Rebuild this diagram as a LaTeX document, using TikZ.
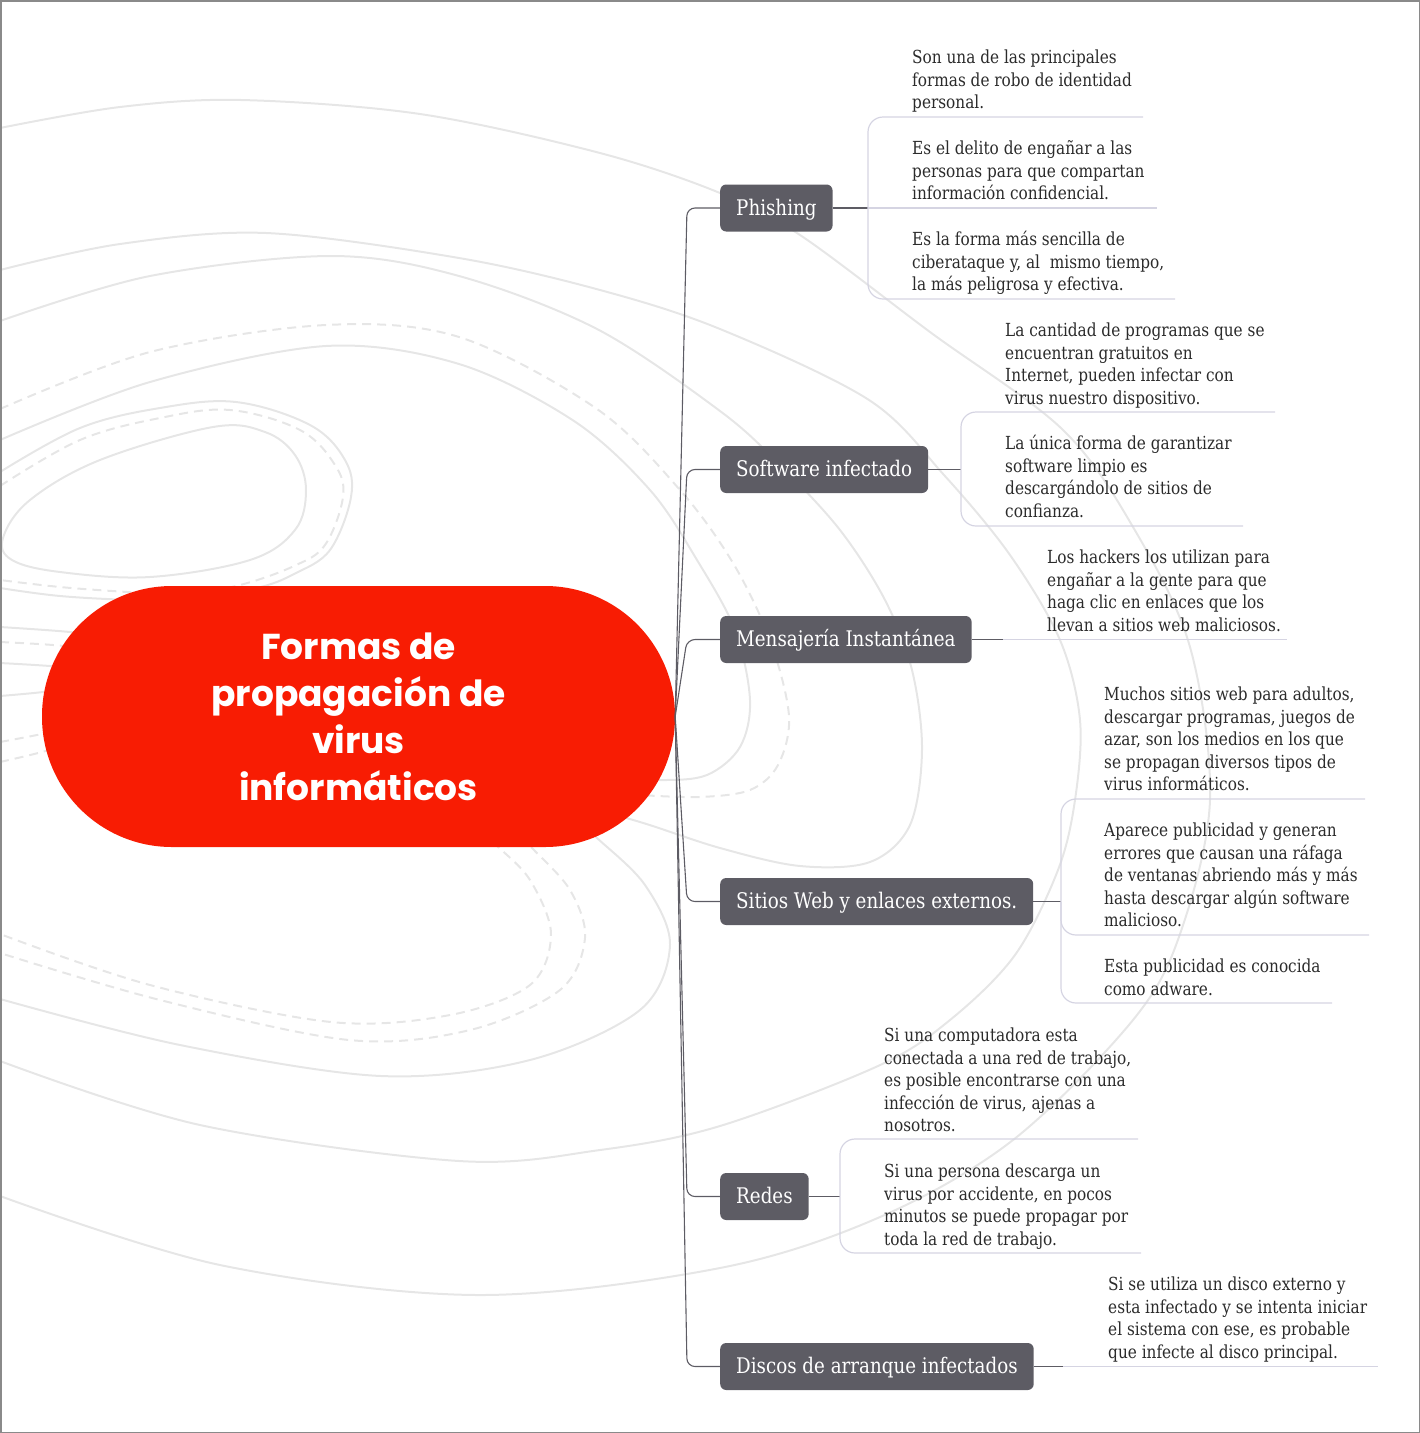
\documentclass[tikz,border=0pt]{standalone}
\usepackage{fontspec}
\setmainfont{DejaVu Serif}[FakeStretch=0.85]
\newfontfamily\leaffont{DejaVu Serif}[FakeStretch=0.85]
\newfontfamily\titlefont{Poppins}
\definecolor{rootred}{HTML}{F81C03}
\definecolor{topicgray}{HTML}{5D5C64}
\definecolor{trunkcol}{HTML}{5D5C64}
\definecolor{leafcol}{HTML}{D5D4E2}
\definecolor{bgcol}{HTML}{E6E6E6}
\definecolor{txtcol}{HTML}{2B2B2B}
\definecolor{framecol}{HTML}{8A8A8A}
\begin{document}
\begin{tikzpicture}[x=1pt,y=-1pt,
  bgsolid/.style={draw=bgcol, line width=2pt},
  bgdash/.style={draw=bgcol, line width=2pt, dash pattern=on 9pt off 6pt},
  rootnode/.style={fill=rootred, rounded corners=130pt, minimum width=633pt, minimum height=261pt, inner sep=0pt, text=white, align=center, font=\titlefont\bfseries\fontsize{36}{47}\selectfont},
  topicnode/.style={fill=topicgray, rounded corners=6pt, text=white, anchor=west, minimum height=47pt, inner xsep=16pt, inner ysep=0pt, text height=15pt, text depth=1pt, font=\leaffont\fontsize{21.5}{26}\selectfont},
  leaftext/.style={anchor=north west, inner sep=0pt, align=left, text=txtcol, font=\leaffont\fontsize{18}{22.4}\selectfont},
  trunkline/.style={draw=trunkcol, line width=1.1pt, rounded corners=8pt},
  leafline/.style={draw=leafcol, line width=1.2pt, rounded corners=15pt},
  darkline/.style={draw=trunkcol, line width=1.1pt}
]
\useasboundingbox (0,0) rectangle (1420,1433);

% ---------- background contour lines ----------
\draw[bgsolid] plot[smooth,tension=0.55] coordinates {(0,128) (120,107) (241,100) (420,114) (600,153) (720,193) (800,235) (930,332) (1062,429) (1133,527) (1190,647) (1210,800) (1180,934) (1133,1020) (1013,1140) (880,1217) (720,1268) (477,1295) (220,1265) (0,1196)};
\draw[bgsolid] plot[smooth,tension=0.55] coordinates {(0,270) (120,244) (266,233) (459,258) (600,290) (720,329) (869,400) (944,475) (1010,555) (1060,640) (1080,720) (1075,800) (1058,870) (1015,955) (950,1020) (878,1066) (720,1126) (600,1150) (459,1161) (200,1125) (0,1061)};
\draw[bgsolid] plot[smooth,tension=0.55] coordinates {(0,321) (150,276) (331,256) (459,276) (597,329) (720,411) (780,465) (840,530) (885,600) (912,670) (922,750) (910,825) (870,862) (800,866) (720,848) (640,822) (560,800)};
\draw[bgdash] plot[smooth,tension=0.55] coordinates {(0,409) (150,352) (326,325) (459,337) (597,409) (680,490) (733,563) (770,640) (789,716) (778,765) (750,790) (700,797) (640,795)};
\draw[bgsolid] plot[smooth,tension=0.55] coordinates {(0,440) (150,382) (326,346) (459,364) (574,421) (650,490) (697,560) (735,630) (750,700) (740,747) (707,775) (660,780) (600,775)};
\draw[bgsolid] plot[smooth cycle,tension=0.6] coordinates {(3,538) (30,500) (100,460) (213,427) (265,432) (295,455) (306,490) (295,530) (250,560) (150,577) (60,572) (12,560)};
\draw[bgdash] plot[smooth,tension=0.6] coordinates {(0,486) (80,440) (160,418) (230,410) (300,430) (335,465) (343,497) (325,545) (294,566) (240,585) (180,595) (127,592) (60,587) (0,580)};
\draw[bgsolid] plot[smooth,tension=0.6] coordinates {(0,472) (80,428) (160,408) (236,402) (310,425) (345,460) (351,497) (330,550) (294,574) (257,588) (190,600) (133,600) (60,596) (0,588)};
\draw[bgsolid] plot[smooth] coordinates {(0,627) (70,632) (130,640)};
\draw[bgdash] plot[smooth] coordinates {(0,642) (53,645) (120,652)};
\draw[bgsolid] plot[smooth] coordinates {(0,663) (50,666) (120,672)};
\draw[bgsolid] plot[smooth] coordinates {(0,696) (43,692) (100,684)};
\draw[bgdash] plot[smooth] coordinates {(0,742) (37,735) (100,722)};
\draw[bgdash] plot[smooth] coordinates {(0,762) (42,752) (100,735)};
\draw[bgdash] plot[smooth,tension=0.55] coordinates {(470,822) (496,845) (530,880) (551,934) (530,985) (450,1015) (331,1022) (150,985) (0,934)};
\draw[bgdash] plot[smooth,tension=0.55] coordinates {(510,826) (533,849) (570,890) (585,938) (560,990) (470,1030) (349,1040) (160,1000) (0,953)};
\draw[bgsolid] plot[smooth,tension=0.55] coordinates {(570,815) (597,838) (645,885) (670,945) (640,1010) (530,1060) (381,1076) (180,1045) (0,999)};

% ---------- frame ----------
\draw[framecol, line width=1.5pt] (0.75,0.75) rectangle (1419.25,1432.25);

% ---------- central node ----------
\node[rootnode] (rootn) at (358.5,716.5) {Formas de\\propagación de\\virus\\informáticos};

% ---------- main topics ----------
\node[topicnode] (phishing) at (720,208) {Phishing};
\node[topicnode] (software) at (720,469.5) {Software infectado};
\node[topicnode] (mensajeria) at (720,639.5) {Mensajería Instantánea};
\node[topicnode] (sitios) at (720,901.5) {Sitios Web y enlaces externos.};
\node[topicnode] (redes) at (720,1196.5) {Redes};
\node[topicnode] (discos) at (720,1366.5) {Discos de arranque infectados};

\foreach \n/\yy in {phishing/208, software/469.5, mensajeria/639.5, sitios/901.5, redes/1196.5, discos/1366.5}
  \draw[trunkline] (rootn.east) -- (687,\yy) -- (\n.west);

% ---------- join points ----------
\coordinate (phB) at (868,208);
\coordinate (swB) at (961,469.5);
\coordinate (msB) at (1003,639.5);
\coordinate (siB) at (1061,901.5);
\coordinate (reB) at (840,1196.5);
\coordinate (diB) at (1063,1366.5);

\draw[darkline] (phishing.east) -- (phB);
\draw[darkline] (software.east) -- (swB);
\draw[darkline] (mensajeria.east) -- (msB);
\draw[darkline] (sitios.east) -- (siB);
\draw[darkline] (redes.east) -- (reB);
\draw[darkline] (discos.east) -- (diB);

% ---------- leaf texts ----------
\node[leaftext] (p1) at (912,48) {\strut Son una de las principales\\formas de robo de identidad\\personal.};
\node[leaftext] (p2) at (912,139) {\strut Es el delito de engañar a las\\personas para que compartan\\información confidencial.};
\node[leaftext] (p3) at (912,230) {\strut Es la forma más sencilla de\\ciberataque y, al\ \ mismo tiempo,\\la más peligrosa y efectiva.};
\node[leaftext] (s1) at (1005,321) {\strut La cantidad de programas que se\\encuentran gratuitos en\\Internet, pueden infectar con\\virus nuestro dispositivo.};
\node[leaftext] (s2) at (1005,434) {\strut La única forma de garantizar\\software limpio es\\descargándolo de sitios de\\confianza.};
\node[leaftext] (m1) at (1047,548) {\strut Los hackers los utilizan para\\engañar a la gente para que\\haga clic en enlaces que los\\llevan a sitios web maliciosos.};
\node[leaftext] (w1) at (1104,685) {\strut Muchos sitios web para adultos,\\descargar programas, juegos de\\azar, son los medios en los que\\se propagan diversos tipos de\\virus informáticos.};
\node[leaftext] (w2) at (1104,821) {\strut Aparece publicidad y generan\\errores que causan una ráfaga\\de ventanas abriendo más y más\\hasta descargar algún software\\malicioso.};
\node[leaftext] (w3) at (1104,957) {\strut Esta publicidad es conocida\\como adware.};
\node[leaftext] (r1) at (884,1026) {\strut Si una computadora esta\\conectada a una red de trabajo,\\es posible encontrarse con una\\infección de virus, ajenas a\\nosotros.};
\node[leaftext] (r2) at (884,1162) {\strut Si una persona descarga un\\virus por accidente, en pocos\\minutos se puede propagar por\\toda la red de trabajo.};
\node[leaftext] (d1) at (1108,1275) {\strut Si se utiliza un disco externo y\\esta infectado y se intenta iniciar\\el sistema con ese, es probable\\que infecte al disco principal.};

% ---------- leaf connectors (underlines) ----------
\draw[leafline] (phB) -- (868,117) -- (1143,117);
\draw[leafline] (phB) -- (1157,208);
\draw[leafline] (phB) -- (868,299) -- (1175,299);
\draw[leafline] (swB) -- (961,412) -- (1275,412);
\draw[leafline] (swB) -- (961,526) -- (1243,526);
\draw[leafline] (msB) -- (1287,639.5);
\draw[leafline] (siB) -- (1061,799) -- (1365,799);
\draw[leafline] (siB) -- (1061,935) -- (1369,935);
\draw[leafline] (siB) -- (1061,1003) -- (1332,1003);
\draw[leafline] (reB) -- (840,1139) -- (1138,1139);
\draw[leafline] (reB) -- (840,1253) -- (1141,1253);
\draw[leafline] (diB) -- (1378,1366.5);
\end{tikzpicture}
\end{document}
